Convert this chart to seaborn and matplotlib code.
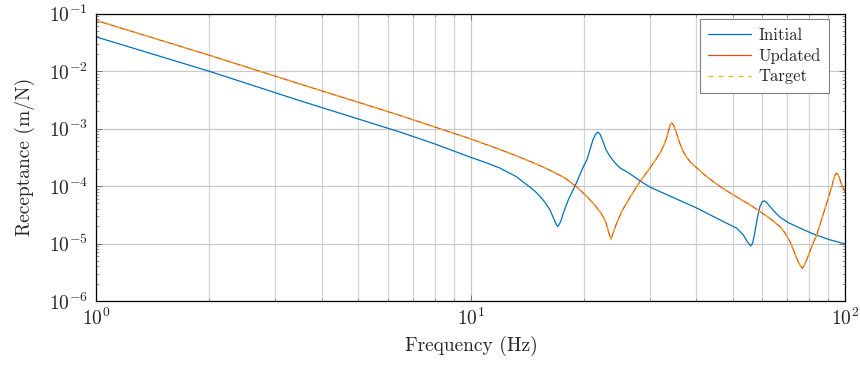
import matplotlib
matplotlib.use("Agg")
import matplotlib.pyplot as plt
from matplotlib.ticker import LogLocator, NullFormatter
import pandas as pd
import seaborn as sns

# values (Hz, m/N)
init_freq = [1.0, 2.0, 3.49, 6.46, 8.0, 10.0, 11.0, 11.95, 13.2, 14.37, 14.83, 15.29, 15.76, 16.25,
             16.76, 16.92, 17.04, 17.17, 17.36, 17.64, 18.19, 18.96, 19.95, 20.40, 21.17, 21.56,
             21.83, 22.11, 22.52, 22.94, 23.50, 24.24, 25.0, 26.59, 28.27, 30.06, 40.13, 47.18,
             49.16, 51.23, 53.35, 54.68, 55.84, 56.52, 57.33, 58.15, 59.12, 59.96, 60.71, 61.61,
             62.87, 64.82, 66.86, 70.37, 74.09, 81.89, 90.9, 100.0]
init_rec = [3.9e-2, 9.9e-3, 3.05e-3, 8.69e-4, 5.4e-4, 3.14e-4, 2.53e-4, 2.05e-4, 1.46e-4, 9.57e-5,
            8.09e-5, 6.62e-5, 5.20e-5, 3.85e-5, 2.41e-5, 2.11e-5, 1.97e-5, 2.11e-5, 2.41e-5, 3.37e-5,
            5.75e-5, 1.0e-4, 2.16e-4, 2.86e-4, 6.38e-4, 8.11e-4, 8.69e-4, 7.96e-4, 5.96e-4, 4.28e-4,
            3.27e-4, 2.53e-4, 2.07e-4, 1.63e-4, 1.23e-4, 9.57e-5, 4.12e-5, 2.41e-5, 2.11e-5, 1.85e-5,
            1.41e-5, 1.08e-5, 9.08e-6, 1.01e-5, 1.61e-5, 2.76e-5, 4.40e-5, 5.37e-5, 5.52e-5, 5.16e-5,
            4.40e-5, 3.51e-5, 2.87e-5, 2.31e-5, 1.97e-5, 1.47e-5, 1.16e-5, 9.8e-6]

upd_freq = [1.0, 2.0, 3.49, 6.46, 10.0, 11.95, 13.1, 14.37, 15.45, 16.59, 17.82, 18.96, 19.55,
            20.16, 20.78, 21.43, 22.11, 22.56, 22.94, 23.26, 23.48, 23.65, 23.84, 24.02, 24.49,
            25.26, 26.59, 28.27, 30.06, 30.99, 31.97, 32.77, 33.32, 33.69, 34.06, 34.35, 34.63,
            34.94, 35.42, 36.15, 36.82, 37.75, 38.69, 40.13, 42.15, 44.29, 47.67, 52.27, 55.59,
            59.12, 62.87, 66.86, 68.94, 71.10, 72.62, 74.09, 75.38, 76.69, 77.71, 79.43, 81.39,
            83.8, 86.3, 89.1, 90.64, 91.9, 92.9, 93.9, 94.7, 95.6, 96.5, 97.7, 98.8, 100.0]
upd_rec = [7.55e-2, 1.88e-2, 5.96e-3, 1.69e-3, 6.56e-4, 4.31e-4, 3.43e-4, 2.69e-4, 2.19e-4, 1.76e-4,
           1.38e-4, 1.02e-4, 8.5e-5, 7.03e-5, 5.75e-5, 4.61e-5, 3.56e-5, 2.90e-5, 2.29e-5, 1.66e-5,
           1.36e-5, 1.20e-5, 1.36e-5, 1.59e-5, 2.26e-5, 3.60e-5, 6.41e-5, 1.20e-4, 2.05e-4, 2.75e-4,
           3.74e-4, 5.22e-4, 6.92e-4, 9.16e-4, 1.16e-3, 1.25e-3, 1.19e-3, 1.05e-3, 8.11e-4, 5.43e-4,
           4.03e-4, 3.10e-4, 2.53e-4, 2.05e-4, 1.54e-4, 1.20e-4, 8.59e-5, 5.98e-5, 4.70e-5, 3.60e-5,
           2.73e-5, 1.97e-5, 1.53e-5, 1.08e-5, 7.74e-6, 5.55e-6, 4.33e-6, 3.71e-6, 4.24e-6, 5.92e-6,
           9.08e-6, 1.41e-5, 2.58e-5, 5.04e-5, 7.31e-5, 9.8e-5, 1.28e-4, 1.57e-4, 1.68e-4, 1.57e-4,
           1.33e-4, 1.05e-4, 8.93e-5, 7.84e-5]

# target overlays the updated curve
target_freq = list(upd_freq)
target_rec = list(upd_rec)

sns.set_style("ticks")
plt.rcParams["font.family"] = "serif"
plt.rcParams["font.serif"] = ["cmr10", "DejaVu Serif"]
plt.rcParams["mathtext.fontset"] = "cm"
plt.rcParams["axes.formatter.use_mathtext"] = True

df_init = pd.DataFrame({"freq": init_freq, "rec": init_rec})
df_upd = pd.DataFrame({"freq": upd_freq, "rec": upd_rec})
df_target = pd.DataFrame({"freq": target_freq, "rec": target_rec})

fig, ax = plt.subplots(figsize=(8.6, 3.65), dpi=100)
fig.subplots_adjust(left=0.1122, right=0.9831, top=0.963, bottom=0.1753)

sns.lineplot(data=df_init, x="freq", y="rec", ax=ax, color="#0072BD", lw=0.9,
             label="Initial", estimator=None, sort=False)
sns.lineplot(data=df_upd, x="freq", y="rec", ax=ax, color="#D95319", lw=0.9,
             label="Updated", estimator=None, sort=False)
sns.lineplot(data=df_target, x="freq", y="rec", ax=ax, color="#EDB120", lw=0.9,
             linestyle=(0, (4, 4)), label="Target", estimator=None, sort=False)

ax.set_xscale("log")
ax.set_yscale("log")
ax.set_xlim(1, 100)
ax.set_ylim(1e-6, 1e-1)

ax.xaxis.set_minor_locator(LogLocator(base=10, subs=range(2, 10)))
ax.yaxis.set_minor_locator(LogLocator(base=10, subs=range(2, 10), numticks=20))
ax.xaxis.set_minor_formatter(NullFormatter())
ax.yaxis.set_minor_formatter(NullFormatter())

ax.grid(True, which="major", color="#c8c8c8", lw=0.9)
ax.grid(True, which="minor", axis="x", color="#d4d4d4", lw=0.9)
ax.set_axisbelow(True)

ax.tick_params(which="both", direction="in", top=True, right=True, labelsize=14)
ax.tick_params(which="major", length=4, width=0.6, color="#666666", pad=6)
ax.tick_params(which="minor", length=2.5, width=0.6, color="#888888")
ax.tick_params(axis="x", which="major", pad=5)
for s in ax.spines.values():
    s.set_color("black")
    s.set_linewidth(0.9)

ax.set_xlabel("Frequency (Hz)", fontsize=14, labelpad=5)
ax.set_ylabel("Receptance (m/N)", fontsize=14, labelpad=10)

leg = ax.legend(loc="upper right", bbox_to_anchor=(0.978, 0.981), borderaxespad=0,
                fontsize=12, frameon=True, fancybox=False, framealpha=1,
                edgecolor="#808080", handlelength=2.55, handletextpad=0.45,
                labelspacing=0.32, borderpad=0.5)
leg.get_frame().set_linewidth(0.8)

fig.savefig("out.png", dpi=100)
